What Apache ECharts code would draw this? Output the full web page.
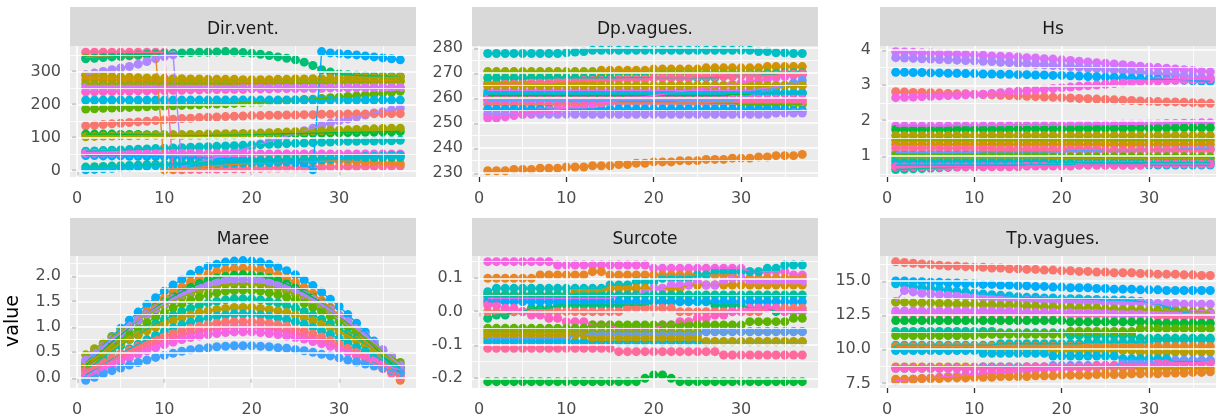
<!DOCTYPE html>
<html><head><meta charset="utf-8">
<script src="https://cdn.jsdelivr.net/npm/echarts@6/dist/echarts.min.js"></script>
<style>html,body{margin:0;padding:0;background:#fff}#c{width:1216px;height:418px}</style>
</head><body><div id="c"></div>
<script>
// ---------- data ----------
const steps = [1,2,3,4,5,6,7,8,9,10,11,12,13,14,15,16,17,18,19,20,21,22,23,24,25,26,27,28,29,30,31,32,33,34,35,36,37];
const xTicks = [0,10,20,30];
const xMinor = [5,15,25,35];
const panelTitles = ['Dir.vent.','Dp.vagues.','Hs','Maree','Surcote','Tp.vagues.'];
const yTitle = 'value';

const dirVentTicks = [0,100,200,300];
const dirVentMinor = [50,150,250,350];
const dirVent = [
 [358,358,358,358,358,358,358,358,358,358, 2,2,3,3,4,4,5,5,5,6, 6,7,7,8,8,8,9,9,10,10, 11,11,12,12,12,13,13],
 [342,343,344,345,346,347,348,350,352,2, 4,6,8,10,12,14,16,18,20,21, 22,23,24,25,26,27,28,28,29,29, 28,27,25,24,22,21,20],
 [338,340,342,344,346,348,350,352,353,354, 355,356,357,358,358,359,360,359,357,355, 352,348,344,340,335,328,318,305,298,292, 290,288,287,286,286,285,285],
 [45,45,44,44,44,43,43,42,42,41, 41,40,40,39,38,37,36,35,34,33, 32,30,28,26,24,20,2,360,356,354, 352,350,347,344,341,338,335],
 [290,295,300,305,310,315,322,330,338,345, 350,10,18,25,32,40,48,56,64,72, 80,88,96,104,112,120,128,136,143,150, 156,162,168,174,178,183,188],
 [288,286,285,284,283,282,281,280,280,279, 278,278,277,277,276,276,276,276,275,275, 275,275,276,276,277,277,278,278,279,279, 280,280,281,281,282,282,283],
 [275,275,274,274,273,273,272,272,271,271, 270,270,270,269,269,269,269,268,268,268, 268,268,268,268,268,269,269,269,270,270, 270,271,271,271,272,272,272],
 [262,262,262,262,262,262,262,262,262,262, 262,262,262,262,262,262,262,262,263,263, 263,263,264,264,264,265,265,265,266,266, 267,267,268,268,269,269,270],
 [186,187,188,189,190,191,192,193,194,195, 196,197,198,199,200,201,202,203,205,206, 207,209,210,212,213,215,216,218,220,222, 224,226,229,231,234,237,240],
 [213,213,213,213,213,213,213,213,213,213, 213,213,213,213,213,213,213,213,213,213, 213,213,213,213,213,213,213,213,213,213, 213,213,213,213,213,213,213],
 [135,137,139,141,143,145,147,149,151,153, 155,157,158,160,161,162,163,164,165,166, 166,167,167,168,168,169,169,170,170,170, 171,171,171,172,172,172,172],
 [110,110,110,110,109,109,109,108,108,108, 107,107,107,107,107,108,108,108,109,109, 110,110,111,111,112,112,113,113,114,114, 115,115,116,116,117,117,118],
 [102,103,104,104,105,105,106,106,107,107, 108,108,109,109,110,110,111,111,112,112, 113,114,115,116,117,118,119,120,121,122, 123,124,125,126,127,128,128],
 [58,59,60,61,62,63,64,65,66,67, 68,69,70,71,72,73,74,75,76,77, 78,79,80,81,82,83,84,85,86,87, 88,88,89,89,90,90,91],
 [52,52,52,52,52,52,52,52,52,52, 52,52,52,51,51,51,51,51,51,50, 50,50,50,50,50,50,50,50,50,50, 50,50,50,50,50,50,50],
 [10,11,12,13,14,15,16,17,18,19, 20,21,22,23,24,25,26,27,28,29, 30,31,32,33,33,34,35,35,36,37, 37,38,38,39,39,40,40],
 [2,3,5,6,8,9,11,12,14,15, 16,17,18,19,20,21,22,22,23,23, 24,24,25,26,27,28,30,32,34,36, 38,40,42,43,44,45,46],
 [238,238,239,239,240,240,241,241,242,242, 243,243,244,244,245,245,246,246,246,247, 247,247,248,248,248,249,249,249,250,250, 250,250,250,251,251,251,251],
 [252,252,252,252,252,252,252,252,252,252, 251,251,251,251,251,251,251,251,251,251, 251,251,251,251,251,251,251,251,251,251, 251,251,251,251,251,251,251]
];
const dirVentColors = ['#FF699C','#E88526','#00BF74','#00ADFA','#AE87FF','#B79F00','#D39200','#93AA00','#5EB300','#00B9E3','#F8766D','#00BA38','#A3A500','#00BFC4','#F564E3','#00C19F','#00B9E3','#FF61C3','#DB72FB'];

const dpTicks = [230,240,250,260,270,280];
const dpMinor = [235,245,255,265,275];
const dpVagues = [
 [277.7,277.7,277.7,277.7,277.7,277.7,277.7,277.7,277.7,278, 278.3,278.5,279,279,279,279,279,279,279,279, 279,279,279,279,279,279,279,279,279,279, 279,278.5,278.5,278,278,277.7,277.7],
 [231,231,231,231.5,231.5,231.5,232,232,232,232.5, 232.5,232.5,233,233,233,233.5,233.5,234,234,234.5, 234.5,234.5,235,235,235,235.5,235.5,235.5,236,236, 236,236.5,236.5,237,237,237,237.5],
 [266,266,266,266,266,266,266,266,266,266, 266,266,266,271,271,271,271,271,271,271.5, 271.5,271.5,271.5,271.5,271.5,272,272,272,272,272, 272,272,272.5,272.5,272.5,272.5,272.5],
 [270.5,270.5,270.5,270.5,270.5,270.5,270.5,270.5,270.5,270.5, 270.5,270.5,270.5,270,270,270,270,270,270,270, 270,270,270,270,270,270,270,270,270,270, 270,270,270,270,270,270,270],
 [268,268,268,268,268,268,268,268,268,268, 268,268,268,268,268,268,268,268,268,268, 268,268,268,268,268,268,268,268.5,268.5,269, 269,269,269.5,269.5,270,270,270],
 [261,261,261,261,261,261,261,261,261,261, 261,261,261,261,261,261,261,261,261,261, 261,261,261,261,261,261,261,261,261.5,261.5, 261.5,262,262,262,262,262,262],
 [260,260,260,260,260,259.5,259.5,259.5,259.5,259, 259,259,259,259,259,258.5,258.5,258.5,258.5,258.5, 258.5,258.5,258,258,258,258,258,258,258,257.5, 257.5,257.5,257.5,257.5,257.5,257.5,257.5],
 [257.5,257.5,257.5,257.5,257.5,257.5,257.5,257.5,257.5,257.5, 257.5,257.5,257.5,257.5,258,258,258,258,258,258, 258,258,258,258,258,258,258.5,258.5,258.5,258.5, 258.5,258.5,258.5,258.5,258.5,258.5,258.5],
 [255.5,255.5,255.5,255.5,255.5,255.5,255.5,255.5,255.5,255.5, 255.5,255.5,255.5,255.5,255.5,255.5,255.5,255.5,255.5,255.5, 255.5,255.5,255.5,255.5,255.5,255.5,255.5,255.5,255.5,255.5, 255.5,255.5,255.5,255.5,255.5,255,255],
 [253.5,253.5,253.5,253.5,253.5,253.5,253.5,253.5,253.5,253.5, 253.5,253.5,253.5,253.5,253.5,253.5,253.5,253.5,253.5,253.5, 253.5,253.5,253.5,253.5,253.5,253.5,253.5,253.5,253.5,253.5, 253.5,253.5,253.5,254,254,254,254],
 [252,252,252.5,253,253.5,254,254.5,255,255.5,256, 256.5,257,257.5,258,258.5,259,259.5,260,260.5,261, 261.5,262,262.5,263,263.5,264,264.5,265,265.5,266, 266.5,267,267.5,268,268.5,269,269],
 [263,263,263,263,263,263,263,263,263,263, 263,263,263,263,263,263,263,263,263,263, 263,263,263,263,263,263,263,263,263,263, 263,263.5,264,264.5,265,265,265],
 [265,265,265.5,265.5,265.5,266,266,266,266.5,266.5, 266.5,267,267,267,267,267.5,267.5,267.5,267.5,268, 268,268,268,268,268.5,268.5,268.5,268.5,268.5,269, 269,269,269,269,269.5,269.5,269.5],
 [259,259,259,259,259,259,259,259,259,259, 259,259,259,259,259,259,259,259,259,259, 259,259,259,259,259,259,259,259,259,260, 261,262,263,264,265,266,267],
 [262,262,262,262,262,262,262,262,262,262, 262,262,262,262,262,262,262,262,262,262, 262,262,262,262,262,262,262,262,262,262, 262,262,262,262,262,262,262],
 [259.5,259.5,259.5,259.5,259.5,259.5,259.5,259.5,259.5,259.5, 259.5,259.5,259.5,259.5,259.5,259.5,259.5,259.5,259.5,259.5, 259.5,259.5,259.5,259.5,259.5,259.5,259.5,259.5,259.5,259.5, 259.5,259.5,259.5,259.5,259.5,259.5,259.5],
 [265,265,265,265,265,265,265,265,265,265, 265,265,265,265,265,265,265,265,265,265, 265,265,265,265,265,265,265,265,265,265, 265,265,265,265,265,265,265]
];
const dpColors = ['#00BFC4','#E88526','#D39200','#93AA00','#00C19F','#00BA38','#5EB300','#F8766D','#00ADFA','#AE87FF','#F564E3','#DB72FB','#FF699C','#619CFF','#00B9E3','#FF61C3','#B79F00'];

const hsTicks = [1,2,3,4];
const hsMinor = [0.5,1.5,2.5,3.5];
const hs = [
 [3.95,3.94,3.93,3.92,3.91,3.90,3.89,3.88,3.87,3.86, 3.85,3.83,3.82,3.81,3.80,3.78,3.77,3.75,3.74,3.72, 3.70,3.68,3.66,3.64,3.62,3.60,3.58,3.56,3.54,3.52, 3.50,3.48,3.46,3.44,3.42,3.40,3.38],
 [3.78,3.77,3.76,3.75,3.74,3.73,3.72,3.71,3.70,3.69, 3.68,3.67,3.65,3.64,3.62,3.61,3.59,3.58,3.56,3.55, 3.53,3.51,3.49,3.47,3.45,3.43,3.41,3.39,3.37,3.35, 3.33,3.31,3.29,3.27,3.25,3.23,3.21],
 [3.37,3.37,3.36,3.36,3.35,3.35,3.34,3.34,3.33,3.33, 3.32,3.32,3.31,3.31,3.30,3.30,3.29,3.29,3.28,3.28, 3.27,3.26,3.25,3.24,3.23,3.22,3.21,3.20,3.19,3.18, 3.17,3.16,3.15,3.14,3.13,3.12,3.11],
 [2.82,2.81,2.80,2.80,2.79,2.78,2.77,2.76,2.76,2.75, 2.74,2.73,2.72,2.71,2.70,2.69,2.68,2.67,2.66,2.65, 2.64,2.63,2.62,2.61,2.60,2.59,2.58,2.57,2.56,2.55, 2.54,2.53,2.53,2.52,2.51,2.50,2.49],
 [2.65,2.66,2.67,2.68,2.69,2.70,2.71,2.72,2.73,2.74, 2.75,2.77,2.79,2.81,2.83,2.85,2.87,2.89,2.91,2.93, 2.95,2.97,2.99,3.01,3.03,3.05,3.07,3.09,3.10,3.11, 3.12,3.13,3.14,3.15,3.16,3.17,3.18],
 [1.85,1.85,1.85,1.85,1.85,1.85,1.85,1.86,1.86,1.86, 1.86,1.86,1.86,1.87,1.87,1.87,1.87,1.87,1.87,1.88, 1.88,1.88,1.88,1.89,1.89,1.89,1.90,1.90,1.90,1.91, 1.91,1.92,1.92,1.93,1.93,1.94,1.94],
 [1.75,1.75,1.75,1.75,1.75,1.75,1.75,1.76,1.76,1.76, 1.76,1.76,1.76,1.76,1.77,1.77,1.77,1.77,1.77,1.77, 1.77,1.78,1.78,1.78,1.78,1.78,1.78,1.79,1.79,1.79, 1.79,1.79,1.80,1.80,1.80,1.80,1.80],
 [1.58,1.58,1.58,1.58,1.58,1.58,1.58,1.58,1.58,1.58, 1.58,1.58,1.58,1.58,1.58,1.58,1.58,1.58,1.58,1.58, 1.58,1.58,1.58,1.58,1.58,1.58,1.58,1.58,1.58,1.58, 1.58,1.58,1.58,1.58,1.58,1.58,1.58],
 [1.45,1.45,1.45,1.45,1.45,1.45,1.45,1.45,1.45,1.45, 1.45,1.45,1.45,1.45,1.45,1.45,1.45,1.45,1.45,1.45, 1.45,1.45,1.45,1.45,1.45,1.45,1.45,1.45,1.45,1.45, 1.45,1.45,1.45,1.45,1.45,1.45,1.45],
 [1.33,1.33,1.33,1.33,1.33,1.33,1.33,1.33,1.33,1.33, 1.33,1.33,1.33,1.33,1.33,1.33,1.33,1.33,1.33,1.33, 1.33,1.33,1.33,1.33,1.33,1.33,1.33,1.33,1.33,1.33, 1.33,1.33,1.33,1.33,1.33,1.33,1.33],
 [1.10,1.10,1.10,1.10,1.10,1.10,1.10,1.10,1.10,1.10, 1.12,1.12,1.12,1.12,1.12,1.12,1.12,1.12,1.12,1.12, 1.15,1.15,1.15,1.15,1.15,1.15,1.15,1.15,1.18,1.18, 1.18,1.18,1.18,1.20,1.20,1.20,1.20],
 [1.22,1.22,1.22,1.22,1.22,1.22,1.22,1.22,1.22,1.22, 1.22,1.22,1.20,1.20,1.20,1.20,1.20,1.20,1.20,1.20, 1.20,1.20,1.20,1.20,1.17,1.17,1.17,1.17,1.17,1.17, 1.17,1.17,1.17,1.17,1.17,1.17,1.17],
 [0.95,0.95,0.95,0.95,0.95,0.95,0.95,0.95,0.95,0.95, 0.95,0.95,0.95,0.95,0.95,0.95,0.95,0.95,0.93,0.93, 0.93,0.93,0.93,0.93,0.93,0.93,0.93,0.93,0.93,0.93, 0.93,0.93,0.93,0.93,0.93,0.93,0.93],
 [1.02,1.02,1.02,1.02,1.02,1.02,1.02,1.02,1.02,1.02, 1.02,1.02,1.02,1.02,1.02,1.02,1.02,1.02,0.98,0.98, 0.98,0.98,0.98,0.98,0.98,0.98,0.98,0.98,0.98,0.98, 0.98,0.98,0.98,0.98,0.98,0.98,0.98],
 [0.85,0.85,0.85,0.85,0.85,0.85,0.85,0.85,0.85,0.85, 0.85,0.85,0.85,0.85,0.85,0.85,0.85,0.85,0.82,0.82, 0.82,0.82,0.82,0.82,0.82,0.82,0.82,0.82,0.82,0.82, 0.82,0.82,0.82,0.82,0.82,0.82,0.82],
 [0.62,0.63,0.64,0.65,0.66,0.67,0.68,0.69,0.70,0.70, 0.71,0.71,0.72,0.72,0.73,0.73,0.74,0.74,0.75,0.75, 0.76,0.76,0.77,0.77,0.77,0.78,0.78,0.78,0.79,0.79, 0.79,0.80,0.80,0.80,0.80,0.80,0.80],
 [0.75,0.75,0.75,0.75,0.75,0.75,0.75,0.75,0.75,0.75, 0.75,0.75,0.75,0.75,0.75,0.75,0.75,0.75,0.75,0.75, 0.75,0.75,0.75,0.75,0.75,0.75,0.75,0.75,0.75,0.75, 0.75,0.75,0.75,0.75,0.75,0.75,0.75],
 [0.70,0.70,0.70,0.70,0.70,0.70,0.70,0.70,0.70,0.70, 0.70,0.70,0.70,0.70,0.70,0.72,0.72,0.72,0.72,0.72, 0.72,0.75,0.75,0.75,0.75,0.75,0.75,0.75,0.75,0.78, 0.78,0.78,0.78,0.78,0.78,0.78,0.78]
];
const hsColors = ['#DB72FB','#AE87FF','#00ADFA','#F8766D','#F564E3','#E76BF3','#00BA38','#B79F00','#93AA00','#D39200','#619CFF','#FF699C','#A3A500','#5EB300','#00BFC4','#00C19F','#00B9E3','#FF61C3'];

const mareeTicks = [0,0.5,1,1.5,2];
const mareeMinor = [0.25,0.75,1.25,1.75,2.25];
const maree = [
 [.30,.47,.64,.81,.97,1.13,1.29,1.44,1.57,1.70,1.82,1.93,2.03,2.11,2.18,2.23,2.27,2.29,2.30,2.29,2.27,2.23,2.17,2.10,2.02,1.92,1.81,1.68,1.54,1.40,1.24,1.07,.90,.72,.53,.34,.15],
 [.20,.36,.53,.69,.85,1.00,1.15,1.30,1.43,1.56,1.68,1.78,1.88,1.96,2.03,2.08,2.12,2.14,2.15,2.14,2.12,2.08,2.02,1.95,1.87,1.77,1.65,1.52,1.38,1.23,1.07,.90,.72,.54,.34,.15,-.05],
 [.25,.40,.55,.70,.84,.99,1.12,1.25,1.38,1.49,1.60,1.69,1.78,1.85,1.91,1.96,1.99,2.01,2.02,2.01,1.99,1.96,1.91,1.84,1.77,1.68,1.58,1.47,1.35,1.21,1.07,.92,.77,.61,.44,.27,.10],
 [.45,.57,.68,.80,.91,1.02,1.13,1.23,1.33,1.42,1.51,1.58,1.65,1.71,1.76,1.80,1.83,1.84,1.85,1.84,1.83,1.80,1.76,1.70,1.64,1.57,1.48,1.39,1.28,1.17,1.05,.92,.78,.64,.50,.35,.20],
 [.20,.34,.47,.60,.73,.85,.97,1.08,1.19,1.28,1.37,1.45,1.52,1.58,1.63,1.67,1.70,1.71,1.72,1.71,1.70,1.67,1.63,1.58,1.53,1.46,1.38,1.30,1.21,1.11,1.00,.89,.78,.66,.54,.42,.30],
 [.15,.27,.40,.52,.63,.75,.85,.96,1.06,1.14,1.23,1.30,1.36,1.42,1.47,1.50,1.53,1.55,1.55,1.55,1.53,1.50,1.47,1.42,1.37,1.30,1.23,1.15,1.06,.97,.87,.77,.66,.55,.43,.32,.20],
 [.30,.39,.49,.58,.67,.75,.84,.92,.99,1.06,1.12,1.18,1.23,1.28,1.31,1.34,1.36,1.38,1.38,1.38,1.36,1.34,1.31,1.28,1.23,1.18,1.12,1.05,.98,.90,.82,.73,.64,.55,.45,.35,.25],
 [.05,.16,.26,.37,.47,.57,.66,.75,.83,.91,.98,1.04,1.09,1.14,1.18,1.21,1.23,1.25,1.25,1.25,1.23,1.21,1.18,1.14,1.10,1.05,.99,.92,.85,.77,.69,.60,.52,.43,.34,.24,.15],
 [.15,.23,.31,.39,.47,.54,.62,.69,.75,.82,.87,.92,.97,1.01,1.04,1.07,1.09,1.10,1.10,1.10,1.09,1.07,1.04,1.01,.96,.92,.86,.80,.73,.66,.58,.50,.42,.33,.24,.14,.05],
 [.10,.18,.25,.33,.40,.47,.54,.61,.67,.73,.78,.83,.88,.91,.94,.97,.99,1.00,1.00,1.00,.99,.97,.94,.91,.87,.82,.77,.71,.65,.58,.51,.43,.35,.27,.18,.09,.00],
 [.00,.08,.16,.24,.32,.39,.46,.53,.59,.65,.70,.75,.79,.82,.85,.87,.89,.90,.90,.90,.89,.87,.85,.82,.79,.76,.71,.67,.62,.57,.51,.45,.40,.34,.27,.21,.15],
 [.35,.49,.62,.75,.88,1.01,1.13,1.25,1.36,1.46,1.55,1.64,1.71,1.78,1.83,1.88,1.91,1.92,1.93,1.92,1.91,1.87,1.83,1.78,1.71,1.63,1.54,1.45,1.34,1.22,1.10,.97,.83,.69,.55,.40,.25],
 [-.05,.01,.08,.14,.19,.25,.30,.35,.40,.44,.48,.52,.55,.57,.59,.61,.62,.63,.63,.63,.62,.61,.59,.58,.55,.53,.50,.46,.43,.39,.35,.31,.27,.23,.19,.14,.10]
];
const mareeColors = ['#00ADFA','#E88526','#00BA38','#93AA00','#5EB300','#00C19F','#B79F00','#00BFC4','#F8766D','#FF699C','#F564E3','#AE87FF','#3FA2FF'];

const surTicks = [-0.2,-0.1,0,0.1];
const surMinor = [-0.15,-0.05,0.05,0.15];
const surcote = [
 [.15,.15,.15,.15,.15,.15,.15,.15,.14,.14, .14,.14,.14,.14,.14,.14,.14,.14,.14,.13, .13,.13,.13,.13,.13,.13,.13,.13,.13,.13, .12,.12,.12,.12,.12,.11,.11],
 [.10,.10,.10,.10,.10,.10,.11,.11,.11,.11, .11,.11,.12,.12,.11,.11,.11,.11,.11,.11, .11,.11,.11,.11,.11,.11,.11,.11,.11,.10, .10,.10,.10,.10,.10,.10,.10],
 [.06,.07,.07,.07,.07,.07,.07,.07,.07,.07, .07,.07,.07,.07,.08,.08,.08,.09,.09,.09, .10,.10,.10,.10,.11,.11,.12,.12,.12,.12, .12,.12,.13,.13,.14,.14,.14],
 [.05,.05,.05,.05,.05,.05,.05,.05,.05,.05, .06,.06,.06,.06,.07,.07,.07,.07,.07,.07, .07,.07,.07,.08,.08,.08,.08,.08,.08,.08, .08,.08,.08,.08,.08,.08,.08],
 [.04,.04,.04,.04,.04,.04,.04,.04,.04,.04, .04,.04,.04,.04,.04,.05,.05,.05,.06,.07, .07,.08,.08,.08,.09,.08,.08,.09,.10,.10, .09,.09,.09,.09,.09,.09,.09],
 [-.02,-.01,-.01,0,0,.01,.01,.01,.02,.02, .02,.02,.02,.02,.02,.02,.02,.02,.02,.03, .03,.03,.03,.03,.03,.03,.02,.02,.02,.02, .01,.01,.01,0,0,0,0],
 [.05,.05,.05,.05,.05,.05,.05,.05,.05,.05, .05,.05,.05,.05,.05,.05,.05,.05,.05,.05, .05,.05,.05,.05,.05,.05,.05,.05,.05,.05, .05,.05,.05,.05,.05,.05,.05],
 [.03,.03,.03,.03,.03,.03,.03,.03,.03,.03, .03,.03,.03,.03,.03,.03,.03,.03,.03,.03, .03,.03,.03,.03,.03,.03,.03,.03,.03,.03, .03,.03,.03,.03,.03,.03,.03],
 [0,0,0,0,0,0,0,0,0,0, 0,0,0,0,0,0,.01,.01,.01,.01, .01,.01,0,0,0,0,0,0,0,0, 0,0,.01,.01,.01,.01,.01],
 [.02,.02,.01,.01,.00,-.01,-.01,-.02,-.02,-.03, -.03,-.03,-.04,-.04,-.04,-.05,-.05,-.05,-.05,-.05, -.04,-.04,-.03,-.03,-.02,-.02,-.01,-.01,.00,.00, .01,.01,.01,.01,.00,.00,.00],
 [-.05,-.05,-.05,-.05,-.05,-.05,-.05,-.05,-.05,-.05, -.05,-.05,-.04,-.04,-.04,-.04,-.04,-.04,-.04,-.04, -.04,-.04,-.04,-.04,-.04,-.04,-.04,-.04,-.04,-.04, -.03,-.03,-.03,-.03,-.03,-.02,-.02],
 [-.06,-.06,-.06,-.06,-.06,-.06,-.06,-.06,-.06,-.06, -.06,-.06,-.06,-.06,-.06,-.06,-.06,-.06,-.06,-.06, -.06,-.06,-.06,-.06,-.06,-.06,-.06,-.06,-.06,-.06, -.06,-.06,-.06,-.06,-.06,-.06,-.06],
 [-.08,-.08,-.08,-.08,-.08,-.08,-.08,-.08,-.08,-.08, -.07,-.07,-.07,-.07,-.07,-.07,-.07,-.07,-.07,-.07, -.07,-.07,-.07,-.07,-.07,-.06,-.06,-.06,-.06,-.06, -.06,-.06,-.06,-.06,-.06,-.06,-.06],
 [-.09,-.09,-.09,-.09,-.09,-.09,-.09,-.09,-.09,-.09, -.09,-.09,-.09,-.09,-.09,-.09,-.09,-.09,-.09,-.09, -.09,-.09,-.09,-.09,-.09,-.09,-.09,-.09,-.09,-.09, -.09,-.09,-.09,-.09,-.09,-.09,-.09],
 [-.07,-.07,-.07,-.07,-.07,-.07,-.07,-.07,-.07,-.07, -.07,-.07,-.08,-.08,-.08,-.08,-.08,-.08,-.08,-.08, -.08,-.08,-.08,-.08,-.08,-.09,-.09,-.09,-.09,-.09, -.09,-.09,-.09,-.09,-.09,-.09,-.09],
 [-.11,-.11,-.11,-.11,-.11,-.11,-.11,-.11,-.11,-.11, -.11,-.11,-.11,-.11,-.11,-.12,-.12,-.12,-.12,-.12, -.12,-.12,-.12,-.12,-.12,-.12,-.12,-.13,-.13,-.13, -.13,-.13,-.13,-.13,-.13,-.13,-.13],
 [-.21,-.21,-.21,-.21,-.21,-.21,-.21,-.21,-.21,-.21, -.21,-.21,-.21,-.21,-.21,-.21,-.21,-.21,-.20,-.19, -.19,-.20,-.21,-.21,-.21,-.21,-.21,-.21,-.21,-.21, -.21,-.21,-.21,-.21,-.21,-.21,-.21]
];
const surColors = ['#F564E3','#E88526','#00BFC4','#D39200','#DB72FB','#00BF74','#00C19F','#00ADFA','#F8766D','#FF61C3','#5EB300','#93AA00','#619CFF','#00B9E3','#B79F00','#FF699C','#00BA38'];

const tpTicks = [7.5,10,12.5,15];
const tpMinor = [8.75,11.25,13.75,16.25];
const tpVagues = [
 [16.4,16.35,16.3,16.25,16.2,16.15,16.1,16.1,16.05,16.0, 16.0,15.95,15.95,15.9,15.9,15.85,15.85,15.8,15.8,15.75, 15.75,15.7,15.7,15.65,15.65,15.6,15.6,15.6,15.55,15.55, 15.5,15.5,15.5,15.45,15.45,15.4,15.4],
 [15.0,15.0,14.95,14.95,14.9,14.9,14.85,14.85,14.8,14.8, 14.75,14.75,14.7,14.7,14.65,14.65,14.6,14.6,14.55,14.55, 14.5,14.5,14.5,14.45,14.45,14.4,14.4,14.4,14.35,14.35, 14.35,14.3,14.3,14.3,14.3,14.3,14.3],
 [14.8,14.7,14.6,14.5,14.45,14.4,14.3,14.25,14.2,14.1, 14.05,14.0,13.95,13.9,13.85,13.8,13.8,13.75,13.75,13.7, 13.7,13.7,13.65,13.65,13.6,13.6,13.6,13.55,13.5,13.4, 13.3,13.1,12.9,12.7,12.6,12.5,12.4],
 [13.5,14.3,14.2,14.1,14.05,14.0,13.95,13.9,13.85,13.8, 13.75,13.7,13.7,13.65,13.6,13.6,13.55,13.55,13.5,13.5, 13.5,13.45,13.45,13.45,13.4,13.4,13.4,13.4,13.4,13.35, 13.35,13.35,13.35,13.3,13.3,13.3,13.3],
 [13.45,13.45,13.4,13.4,13.4,13.35,13.35,13.3,13.3,13.3, 13.25,13.25,13.2,13.2,13.2,13.15,13.15,13.1,13.1,13.05, 13.05,13.0,13.0,13.0,12.95,12.95,12.9,12.9,12.9,12.85, 12.85,12.8,12.8,12.8,12.75,12.75,12.7],
 [12.6,12.6,12.6,12.6,12.6,12.6,12.6,12.6,12.6,12.6, 12.6,12.6,12.6,12.6,12.6,12.6,12.6,12.6,12.6,12.6, 12.5,12.5,12.5,12.5,12.5,12.5,12.5,12.5,12.5,12.5, 12.4,12.4,12.4,12.4,12.4,12.4,12.4],
 [12.8,12.8,12.8,12.8,12.8,12.8,12.8,12.8,12.8,12.8, 12.8,12.8,12.8,12.8,12.8,12.7,12.7,12.7,12.7,12.7, 12.7,12.7,12.7,12.7,12.7,12.6,12.6,12.6,12.6,12.6, 12.6,12.6,12.6,12.6,12.6,12.6,12.6],
 [12.1,12.1,12.1,12.1,12.1,12.1,12.1,12.1,12.1,12.1, 12.1,12.1,12.1,12.1,12.1,12.1,12.1,12.1,12.1,12.1, 12.0,12.0,12.0,12.0,12.0,12.0,12.0,12.0,12.0,12.0, 11.9,11.9,11.9,11.9,11.9,11.9,11.9],
 [11.3,11.3,11.3,11.3,11.3,11.3,11.3,11.3,11.3,11.3, 11.3,11.3,11.2,11.2,11.2,11.2,11.2,11.2,11.2,11.2, 11.0,11.0,11.0,11.0,11.0,11.0,11.0,11.0,10.8,10.8, 10.8,10.8,10.8,10.8,10.8,10.8,10.8],
 [11.0,11.0,11.0,11.0,11.0,11.0,11.0,11.0,11.0,11.0, 11.1,11.1,11.1,11.1,11.1,11.1,11.1,11.1,11.1,11.1, 11.3,11.3,11.3,11.3,11.3,11.3,11.3,11.3,11.5,11.5, 11.5,11.5,11.5,11.5,11.5,11.5,11.5],
 [10.3,10.3,10.3,10.3,10.3,10.3,10.3,10.3,10.3,10.3, 10.3,10.3,10.4,10.4,10.4,10.4,10.4,10.4,10.4,10.4, 10.4,10.4,10.5,10.5,10.5,10.5,10.5,10.5,10.5,10.5, 10.7,10.7,10.7,10.7,10.7,10.7,10.7],
 [10.2,10.2,10.2,10.2,10.2,10.2,10.2,10.2,10.2,10.2, 10.2,10.2,10.2,10.2,10.2,10.2,10.2,10.2,10.2,10.2, 10.2,10.2,10.2,10.2,10.2,10.2,10.2,10.2,10.2,10.2, 10.2,10.2,10.2,10.2,10.2,10.2,10.2],
 [10.0,10.0,10.0,10.0,10.0,10.0,10.0,10.0,10.0,10.0, 10.0,10.0,10.0,10.0,10.0,10.0,10.0,10.0,9.9,9.9, 9.9,9.9,9.9,9.9,9.9,9.9,9.9,9.9,9.8,9.8, 9.8,9.8,9.8,9.8,9.8,9.8,9.8],
 [9.9,9.9,9.9,9.9,9.9,9.9,9.9,9.9,9.9,9.9, 9.7,9.7,9.7,9.7,9.7,9.7,9.7,9.7,9.5,9.5, 9.5,9.5,9.5,9.5,9.5,9.5,9.3,9.3,9.3,9.3, 9.3,9.3,9.1,9.1,9.1,9.1,9.1],
 [8.7,8.7,8.7,8.7,8.7,8.7,8.7,8.7,8.7,8.7, 8.7,8.7,8.7,8.7,8.7,8.7,8.7,8.7,8.65,8.65, 8.65,8.65,8.65,8.65,8.65,8.65,8.65,8.65,8.6,8.6, 8.6,8.6,8.6,8.6,8.6,8.6,8.6],
 [7.7,7.75,7.8,7.85,7.9,7.95,8.0,8.05,8.1,8.15, 8.2,8.25,8.3,8.35,8.4,8.45,8.5,8.55,8.6,8.6, 8.65,8.65,8.7,8.7,8.75,8.75,8.8,8.8,8.85,8.85, 8.9,8.9,8.95,8.95,9.0,9.05,9.1],
 [7.8,7.8,7.8,7.85,7.85,7.85,7.9,7.9,7.9,7.95, 7.95,7.95,8.0,8.0,8.0,8.0,8.05,8.05,8.05,8.1, 8.1,8.1,8.1,8.15,8.15,8.15,8.15,8.2,8.2,8.2, 8.2,8.25,8.25,8.25,8.3,8.3,8.35],
 [8.6,8.6,8.6,8.6,8.6,8.6,8.6,8.6,8.6,8.6, 8.7,8.7,8.7,8.7,8.7,8.7,8.7,8.7,8.8,8.8, 8.8,8.8,8.8,8.8,8.8,8.8,9.0,9.0,9.0,9.0, 9.0,9.0,9.2,9.2,9.2,9.2,9.2],
 [8.6,8.6,8.6,8.6,8.6,8.6,8.6,8.6,8.6,8.6, 8.6,8.6,8.6,8.6,8.6,8.7,8.7,8.7,8.7,8.7, 8.7,8.7,8.7,8.8,8.8,8.8,8.8,8.8,8.8,8.8, 9.0,9.0,9.0,9.0,9.0,9.0,9.0]
];
const tpColors = ['#F8766D','#00ADFA','#00B9E3','#C77CFF','#93AA00','#FF699C','#DB72FB','#00BA38','#00C19F','#5EB300','#00BFC4','#E88526','#B79F00','#00B9E3','#D39200','#F564E3','#E88526','#619CFF','#FF61C3'];

// ---------- layout / style ----------
const FONT = 'DejaVu Sans';
const facets = [
  {series: dirVent, colors: dirVentColors, ticks: dirVentTicks, minor: dirVentMinor, min: -20, max: 377, dec: 0},
  {series: dpVagues, colors: dpColors, ticks: dpTicks, minor: dpMinor, min: 228.5, max: 280.7, dec: 0},
  {series: hs, colors: hsColors, ticks: hsTicks, minor: hsMinor, min: 0.41, max: 4.11, dec: 0},
  {series: maree, colors: mareeColors, ticks: mareeTicks, minor: mareeMinor, min: -0.2, max: 2.39, dec: 1},
  {series: surcote, colors: surColors, ticks: surTicks, minor: surMinor, min: -0.229, max: 0.167, dec: 1},
  {series: tpVagues, colors: tpColors, ticks: tpTicks, minor: tpMinor, min: 7.16, max: 16.83, dec: 1}
];
const colLeft = [70, 472, 880];
const PW = 346;
const rows = [{top: 46, h: 131, stripTop: 7, stripH: 39, textY: 29.5},
              {top: 256, h: 132, stripTop: 218, stripH: 38, textY: 240}];

const grids = [], xAxes = [], yAxes = [], series = [], graphics = [];
facets.forEach((f, i) => {
  const r = rows[Math.floor(i / 3)], left = colLeft[i % 3];
  grids.push({left: left, top: r.top, width: PW, height: r.h, show: true, backgroundColor: '#EBEBEB',
              borderWidth: 0, containLabel: false, outerBoundsMode: 'none'});
  xAxes.push({type: 'value', gridIndex: i, min: -0.8, max: 38.8,
    axisLine: {show: false}, splitLine: {show: false},
    axisTick: {show: true, length: 5, customValues: xTicks, lineStyle: {color: '#333333', width: 1.3}},
    axisLabel: {customValues: xTicks, color: '#4D4D4D', fontSize: 16, fontFamily: FONT, margin: 14}});
  yAxes.push({type: 'value', gridIndex: i, min: f.min, max: f.max,
    axisLine: {show: false}, splitLine: {show: false},
    axisTick: {show: true, length: 5, customValues: f.ticks, lineStyle: {color: '#333333', width: 1.3}},
    axisLabel: {customValues: f.ticks, color: '#4D4D4D', fontSize: 16, fontFamily: FONT, margin: 9,
                formatter: v => Number(v).toFixed(f.dec)}});
  // grid lines through the axis scales
  const ml = [];
  xMinor.forEach(v => ml.push({xAxis: v, lineStyle: {width: 0.8}}));
  f.minor.forEach(v => ml.push({yAxis: v, lineStyle: {width: 0.8}}));
  xTicks.forEach(v => ml.push({xAxis: v, lineStyle: {width: 1.6}}));
  f.ticks.forEach(v => ml.push({yAxis: v, lineStyle: {width: 1.6}}));
  series.push({type: 'line', xAxisIndex: i, yAxisIndex: i, data: [], z: 1, silent: true,
    markLine: {silent: true, symbol: ['none', 'none'], label: {show: false}, animation: false,
               lineStyle: {color: '#FFFFFF', type: 'solid'}, emphasis: {disabled: true}, data: ml}});
  f.series.forEach((arr, k) => {
    series.push({type: 'scatter', xAxisIndex: i, yAxisIndex: i, z: 2, silent: true,
      symbol: 'circle', symbolSize: 9, itemStyle: {color: f.colors[k], opacity: 1},
      data: steps.map((x, j) => [x, arr[j]])});
  });
  f.series.forEach((arr, k) => {
    series.push({type: 'line', xAxisIndex: i, yAxisIndex: i, z: 3, silent: true,
      showSymbol: false, symbol: 'none', lineStyle: {color: f.colors[k], width: 1.4},
      data: steps.map((x, j) => [x, arr[j]])});
  });
  graphics.push({type: 'rect', shape: {x: left, y: r.stripTop, width: PW, height: r.stripH},
                 style: {fill: '#D9D9D9'}, silent: true});
  graphics.push({type: 'text', x: left + PW / 2, y: r.textY, silent: true,
                 style: {text: panelTitles[i], fill: '#1A1A1A', font: '17px "' + FONT + '"',
                         textAlign: 'center', textVerticalAlign: 'middle'}});
});
graphics.push({type: 'text', x: 13, y: 321, rotation: Math.PI / 2, silent: true,
               style: {text: yTitle, fill: '#000000', font: '19px "' + FONT + '"',
                       textAlign: 'center', textVerticalAlign: 'middle'}});

const chart = echarts.init(document.getElementById('c'), null, {renderer: 'canvas'});
chart.setOption({animation: false, backgroundColor: '#FFFFFF', grid: grids, xAxis: xAxes, yAxis: yAxes,
                 series: series, graphic: graphics});
</script></body></html>
